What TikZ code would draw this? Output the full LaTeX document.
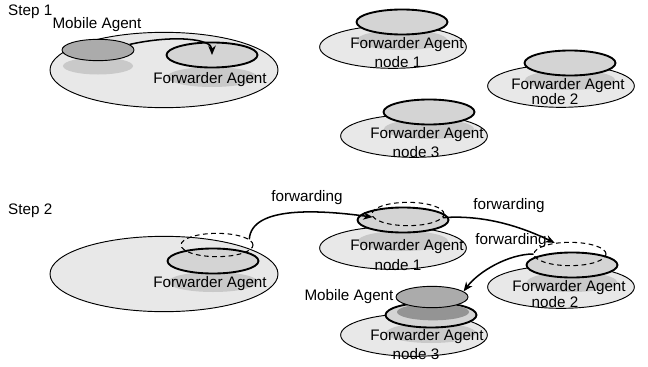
\documentclass[tikz,border=0pt]{standalone}
\usepackage{fontspec}
\setmainfont{Liberation Sans}
\usetikzlibrary{shapes.geometric,arrows.meta}

\begin{document}
\begin{tikzpicture}[x=0.03cm, y=-0.03cm,
    site/.style={ellipse, draw=black, line width=0.8pt, fill=black!9, inner sep=0pt, minimum width=4.4cm, minimum height=1.28cm},
    lan/.style={site, minimum width=6.84cm, minimum height=2.26cm},
    shade/.style={ellipse, fill=black!21, inner sep=0pt, minimum width=2.7cm, minimum height=0.6cm},
    fwd/.style={ellipse, draw=black, line width=1.6pt, fill=black!17, inner sep=0pt, minimum width=2.73cm, minimum height=0.75cm},
    mobile/.style={ellipse, draw=black, line width=0.8pt, fill=black!33, inner sep=0pt, minimum width=2.16cm, minimum height=0.64cm},
    ghost/.style={ellipse, draw=black, line width=0.9pt, dash pattern=on 4pt off 3pt, inner sep=0pt, minimum width=2.16cm, minimum height=0.7cm},
    txt/.style={font=\fontsize{13}{15}\selectfont, inner sep=0pt},
    arrow/.style={->, >={Stealth[length=8pt, width=6.5pt, inset=2.5pt]}, line width=1.3pt}
]
\useasboundingbox (0,0) rectangle (648,366);

% Step 1: agent moves onto the local forwarder
\node[txt, anchor=west] (step1) at (8,12) {Step 1};
\node[lan] (lan1) at (164,70) {};
\node[shade, minimum width=2.1cm, minimum height=0.51cm] (mobshade1) at (98,66) {};
\node[shade] (fwdshade0) at (212,77) {};
\node[mobile] (mob1) at (98,50) {};
\node[fwd] (fwd0) at (212,55) {};
\node[txt] (moblabel1) at (97,25) {Mobile Agent};
\node[txt] (fwdlabel0) at (210,80) {Forwarder Agent};

% remote forwarder nodes
\node[site] (site1) at (393,47) {};
\node[shade] (shade1) at (402,40) {};
\node[fwd] (fwd1) at (402,22) {};
\node[txt] (fwdlabel1) at (407,45) {Forwarder Agent};
\node[txt] (nodelabel1) at (398,62) {node 1};

\node[site] (site2) at (561,86) {};
\node[shade] (shade2) at (570,80) {};
\node[fwd] (fwd2) at (570,63) {};
\node[txt] (fwdlabel2) at (568,86) {Forwarder Agent};
\node[txt] (nodelabel2) at (555,99) {node 2};

\node[site] (site3) at (414,136) {};
\node[shade] (shade3) at (429,129) {};
\node[fwd] (fwd3) at (429,112) {};
\node[txt] (fwdlabel3) at (427,135) {Forwarder Agent};
\node[txt] (nodelabel3) at (416,152) {node 3};

% Step 2: forwarding chain
\node[txt, anchor=west] (step2) at (8,211) {Step 2};
\node[lan] (lan2) at (164,274) {};
\node[shade] (fwdshade4) at (213,282) {};
\node[fwd] (fwd4) at (213,261) {};
\node[ghost] (ghost0) at (217,245) {};
\node[txt] (fwdlabel4) at (210,284) {Forwarder Agent};

\node[site] (site5) at (393,248) {};
\node[shade] (shade5) at (403,241) {};
\node[fwd] (fwd5) at (403,220) {};
\node[ghost] (ghost1) at (408,214) {};
\node[txt] (fwdlabel5) at (407,247) {Forwarder Agent};
\node[txt] (nodelabel5) at (398,265) {node 1};

\node[site] (site6) at (561,287) {};
\node[shade] (shade6) at (572,282) {};
\node[fwd] (fwd6) at (572,265) {};
\node[ghost] (ghost2) at (570,254) {};
\node[txt] (fwdlabel6) at (569,288) {Forwarder Agent};
\node[txt] (nodelabel6) at (555,302) {node 2};

\node[site] (site7) at (414,335) {};
\node[shade] (shade7) at (431,333) {};
\node[fwd] (fwd7) at (431,315) {};
\node[shade, fill=black!42, minimum width=2.16cm, minimum height=0.5cm] (mobshade2) at (433,312) {};
\node[mobile] (mob2) at (432,297) {};
\node[txt] (fwdlabel7) at (427,337) {Forwarder Agent};
\node[txt] (nodelabel7) at (416,354) {node 3};
\node[txt] (moblabel2) at (349,297) {Mobile Agent};

% hop labels
\node[txt] (hop1) at (307,198) {forwarding};
\node[txt] (hop2) at (509,206) {forwarding};
\node[txt] (hop3) at (511,241) {forwarding};

% Connections
\draw[arrow] (mob1.10) .. controls +(45,-10) and +(0,-16) .. (fwd0.center);
\draw[arrow] (ghost0.10) .. controls +(2,-34) and +(-52,-7) .. (ghost1.185);
\draw[arrow] (ghost1.-6) .. controls +(40,-3) and +(-35,-17) .. (ghost2.144);
\draw[arrow] (ghost2.west) .. controls +(-25,0) and +(15,-20) .. (mob2.10);

\end{tikzpicture}
\end{document}
